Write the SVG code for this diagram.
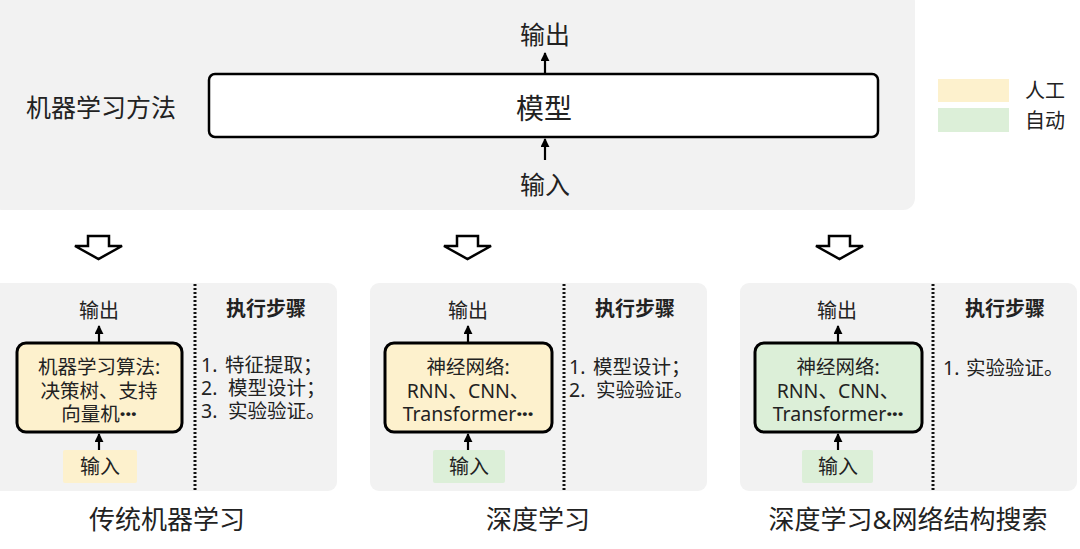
<svg xmlns="http://www.w3.org/2000/svg" width="1080" height="549" viewBox="0 0 1080 549">
<defs>
<marker id="ah" viewBox="0 0 10 10" refX="9" refY="5" markerWidth="9" markerHeight="9" orient="auto" markerUnits="userSpaceOnUse">
<path d="M0,0 L10,5 L0,10 Z" fill="#000"/>
</marker>
<style>
text{font-family:"Noto Sans","Noto Sans CJK SC",sans-serif;fill:#222;}
.c{text-anchor:middle;}
.panel{fill:#f2f2f2;}
.box{stroke:#000;stroke-width:3;}
.yel{fill:#fdf1cd;}
.grn{fill:#dcefd8;}
.conn{stroke:#000;stroke-width:2.2;fill:none;}
.dot{stroke:#111;stroke-width:3;stroke-dasharray:2 2;}
.hollow{fill:#fff;stroke:#000;stroke-width:2.5;stroke-linejoin:miter;}
.b{font-weight:bold;}
.s19{font-size:19.5px;}
.s20{font-size:20px;}
.d{font-weight:900;}
</style>
</defs>
<rect width="1080" height="549" fill="#fff"/>

<g id="top-panel">
<rect class="panel" x="-10" y="-10" width="925" height="220" rx="12"/>
<text x="101" y="117" class="c" font-size="25">机器学习方法</text>
</g>
<g id="model">
<rect x="209" y="74" width="669" height="63" rx="6" fill="#fff" stroke="#000" stroke-width="2.5"/>
<text x="544" y="119" class="c" font-size="28">模型</text>
</g>
<g id="top-output"><text x="545" y="44" class="c" font-size="25">输出</text></g>
<g id="top-input"><text x="545" y="194" class="c" font-size="25">输入</text></g>

<g id="legend">
<rect x="938" y="79" width="71" height="23" class="yel"/>
<rect x="938" y="108" width="71" height="24" class="grn"/>
<text x="1025" y="98" font-size="20">人工</text>
<text x="1025" y="128" font-size="20">自动</text>
</g>

<g id="panel1">
<rect class="panel" x="-10" y="283" width="347" height="208" rx="9"/>
<text x="99" y="318" class="c s20">输出</text>
<text x="266" y="316" class="c b" font-size="20">执行步骤</text>
<text class="s19"><tspan x="201" y="372">1.</tspan><tspan x="225">特征提取；</tspan><tspan x="201" y="395">2.</tspan><tspan x="228">模型设计；</tspan><tspan x="201" y="418">3.</tspan><tspan x="228">实验验证。</tspan></text>
<text x="167" y="529" class="c" font-size="26">传统机器学习</text>
</g>
<g id="box1">
<rect class="box yel" x="17" y="343" width="165" height="89" rx="9"/>
<text class="c s19"><tspan x="99" y="374">机器学习算法:</tspan><tspan x="99" y="398">决策树、支持</tspan><tspan x="99" y="421">向量机<tspan class="d">···</tspan></tspan></text>
</g>
<g id="input1">
<rect class="yel" x="63" y="450" width="74" height="33" rx="2"/>
<text x="100" y="474" class="c s20">输入</text>
</g>

<g id="panel2">
<rect class="panel" x="370" y="283" width="337" height="208" rx="9"/>
<text x="468" y="318" class="c s20">输出</text>
<text x="635" y="316" class="c b" font-size="20">执行步骤</text>
<text class="s19"><tspan x="569" y="374">1.</tspan><tspan x="593">模型设计；</tspan><tspan x="569" y="397">2.</tspan><tspan x="596">实验验证。</tspan></text>
<text x="538" y="529" class="c" font-size="26">深度学习</text>
</g>
<g id="box2">
<rect class="box yel" x="385" y="343" width="167" height="89" rx="9"/>
<text class="c s19"><tspan x="468" y="374">神经网络:</tspan><tspan x="468" y="398">RNN、CNN、</tspan><tspan x="468" y="421">Transformer<tspan class="d">···</tspan></tspan></text>
</g>
<g id="input2">
<rect class="grn" x="433" y="450" width="72" height="33" rx="2"/>
<text x="469" y="474" class="c s20">输入</text>
</g>

<g id="panel3">
<rect class="panel" x="740" y="283" width="337" height="208" rx="9"/>
<text x="837" y="318" class="c s20">输出</text>
<text x="1005" y="316" class="c b" font-size="20">执行步骤</text>
<text class="s19"><tspan x="943" y="375">1.</tspan><tspan x="966">实验验证。</tspan></text>
<text x="908" y="529" class="c" font-size="26">深度学习&amp;网络结构搜索</text>
</g>
<g id="box3">
<rect class="box grn" x="755" y="343" width="167" height="89" rx="9"/>
<text class="c s19"><tspan x="838" y="374">神经网络:</tspan><tspan x="838" y="398">RNN、CNN、</tspan><tspan x="838" y="421">Transformer<tspan class="d">···</tspan></tspan></text>
</g>
<g id="input3">
<rect class="grn" x="802" y="450" width="71" height="33" rx="2"/>
<text x="838" y="474" class="c s20">输入</text>
</g>

<g id="connectors">
<line class="conn" x1="545" y1="73" x2="545" y2="53" marker-end="url(#ah)"/>
<line class="conn" x1="545" y1="160" x2="545" y2="139" marker-end="url(#ah)"/>
<line class="conn" x1="99" y1="342" x2="99" y2="326" marker-end="url(#ah)"/>
<line class="conn" x1="99" y1="450" x2="99" y2="434" marker-end="url(#ah)"/>
<line class="conn" x1="468" y1="342" x2="468" y2="326" marker-end="url(#ah)"/>
<line class="conn" x1="468" y1="450" x2="468" y2="434" marker-end="url(#ah)"/>
<line class="conn" x1="838" y1="342" x2="838" y2="326" marker-end="url(#ah)"/>
<line class="conn" x1="838" y1="450" x2="838" y2="434" marker-end="url(#ah)"/>
<line class="dot" x1="195" y1="284" x2="195" y2="492"/>
<line class="dot" x1="564" y1="284" x2="564" y2="492"/>
<line class="dot" x1="933" y1="284" x2="933" y2="492"/>
<path class="hollow" d="M88,236 H109 V246 H122 L98.5,259 L75,246 H88 Z"/>
<path class="hollow" d="M457,236 H478 V246 H491 L467.5,259 L444,246 H457 Z"/>
<path class="hollow" d="M829,236 H850 V246 H863 L839.5,259 L816,246 H829 Z"/>
</g>
</svg>
